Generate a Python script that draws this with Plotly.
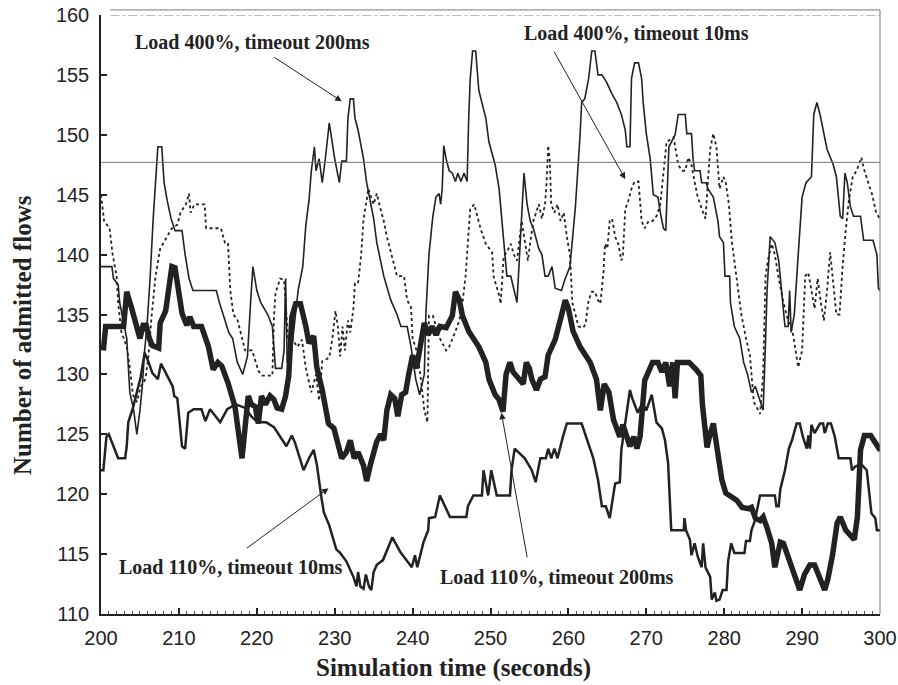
import plotly.graph_objects as go

# Load 400%, timeout 200ms
t_400_200 = [200.0, 201.4, 201.6, 202.2, 202.4, 203.3, 203.7, 204.2, 204.6, 205.0, 205.3, 205.6, 205.9, 206.3,
             206.7, 207.0, 207.3, 207.8, 208.1, 208.5, 209.0, 209.5, 210.4, 210.8, 211.3, 211.8, 212.5, 214.8,
             215.2, 216.4, 216.9, 217.5, 218.2, 218.8, 219.2, 219.5, 220.0, 220.5, 221.4, 222.0, 222.4, 223.2,
             223.5, 223.7, 223.9, 224.3, 224.8, 225.3, 225.9, 226.3, 226.7, 227.0, 227.4, 227.6, 228.0, 228.4,
             228.8, 229.3, 230.0, 230.6, 230.9, 231.5, 231.7, 232.0, 232.4, 232.6, 233.0, 233.7, 234.1, 235.0,
             235.4, 236.3, 237.2, 238.0, 238.5, 239.3, 239.8, 240.4, 240.9, 241.5, 241.7, 242.1, 242.6, 243.0,
             243.4, 243.6, 243.8, 244.0, 244.3, 244.7, 245.1, 245.5, 245.8, 246.2, 246.6, 247.0, 247.2, 247.4,
             247.7, 248.1, 248.5, 248.9, 249.4, 249.8, 250.2, 250.6, 251.1, 251.5, 251.9, 252.1, 252.6, 253.0,
             253.4, 254.3, 254.7, 255.1, 255.5, 256.2, 256.6, 257.0, 257.4, 257.9, 258.3, 259.1, 259.6, 260.2,
             260.9, 261.5, 261.7, 262.1, 262.6, 263.0, 263.4, 263.8, 264.3, 264.9, 265.6, 266.2, 266.8, 267.3,
             267.5, 267.9, 268.1, 268.5, 269.0, 269.4, 269.6, 270.0, 270.5, 270.9, 271.5, 271.8, 272.2, 272.5,
             272.7, 272.9, 273.3, 273.7, 274.1, 275.0, 275.2, 275.8, 276.0, 276.2, 276.9, 277.1, 277.7, 277.9,
             278.6, 279.0, 279.2, 279.4, 279.9, 280.1, 280.7, 280.8, 281.3, 282.0, 282.5, 283.0, 283.5, 284.0,
             284.5, 285.0, 285.3, 285.5, 285.9, 286.5, 287.0, 287.4, 287.8, 288.2, 288.4, 288.6, 289.0, 289.5,
             290.0, 290.5, 291.2, 291.5, 291.9, 292.3, 292.8, 293.2, 294.0, 294.4, 294.9, 295.2, 295.5, 295.8,
             296.2, 296.6, 297.5, 297.9, 299.1, 299.6, 299.8, 300.0]
n_400_200 = [139, 139, 138, 137.5, 136, 133, 128.5, 127, 125, 127, 129, 132, 134, 138,
             143, 146, 149, 149, 146, 144.5, 143, 142, 142, 140, 138, 137, 137, 137,
             136, 133.5, 133, 131, 130, 131.5, 136, 139, 137, 136, 135, 134, 130.5, 130.5,
             132, 138, 131, 131, 134, 137, 139, 142.5, 144.5, 147, 149, 147, 148, 146,
             148, 151, 148, 146, 147.8, 147.8, 151.4, 153, 153, 151.4, 150.4, 148, 146, 143,
             141, 138.2, 136.2, 135, 134, 134, 132.3, 129.6, 128.3, 130, 135, 140, 143.2, 144.8,
             145.1, 144.2, 145.5, 149.1, 148, 147, 146.8, 146.1, 146.8, 146.1, 146.8, 146.1, 151.4, 154.7,
             157, 157, 153.7, 152.7, 151.4, 149.4, 148.4, 147.5, 145.5, 142.8, 140, 138.2, 138.2, 137,
             136, 146.8, 144.2, 142.8, 142.2, 140.5, 140, 138.2, 138.2, 139, 137.2, 137, 138, 139,
             144, 150, 152.7, 153, 154.7, 157, 157, 155, 155, 154.4, 153.4, 152.7, 151.7, 150.4,
             149, 149, 154.7, 156, 156, 154.7, 152.7, 150.1, 148, 145, 144.8, 143.5, 142.2, 142,
             146, 149, 149.5, 150, 151.7, 151.7, 150.1, 150.1, 148, 147, 147, 146, 146, 145.5,
             144.8, 143.5, 142.8, 141.5, 141, 138.2, 138.2, 136, 134, 133, 131, 130, 128.5, 129,
             128, 127, 132.6, 137, 141.5, 141, 139.5, 137, 134, 134, 137, 133.5, 135, 140,
             144.8, 146, 146.5, 151.7, 152.7, 151.7, 150, 148.8, 147.5, 146.5, 143.2, 143, 146.8, 146,
             144, 143.2, 143.2, 141.2, 141.2, 140, 137.2, 137]

# Load 400%, timeout 10ms
t_400_10 = [200.0, 200.4, 201.1, 201.5, 202.0, 202.2, 202.6, 203.3, 203.7, 204.1, 204.6, 205.1, 205.7, 206.1,
            206.5, 207.0, 207.6, 208.5, 209.1, 209.8, 210.2, 210.9, 211.3, 211.5, 212.0, 213.3, 213.5, 215.4,
            215.9, 216.3, 216.6, 217.0, 217.5, 218.5, 219.4, 220.2, 220.7, 222.0, 222.2, 222.4, 223.0, 223.5,
            223.7, 224.0, 224.5, 225.2, 225.8, 226.3, 227.0, 227.6, 228.0, 228.4, 229.3, 229.7, 230.1, 230.4,
            230.7, 231.0, 231.3, 231.7, 232.0, 232.4, 232.6, 233.0, 233.4, 233.7, 234.1, 234.3, 235.0, 235.4,
            235.8, 236.3, 236.7, 237.2, 237.6, 238.0, 238.9, 239.3, 239.8, 240.0, 240.5, 241.0, 241.5, 241.9,
            242.1, 242.6, 243.0, 243.5, 244.3, 244.7, 245.5, 246.0, 246.4, 246.8, 247.2, 247.4, 247.9, 248.3,
            248.8, 249.4, 250.2, 250.4, 251.1, 251.3, 251.7, 252.1, 252.6, 253.0, 253.4, 254.0, 254.4, 254.8,
            255.1, 255.5, 256.2, 256.6, 257.0, 257.2, 257.4, 257.6, 257.8, 258.2, 258.6, 259.0, 259.4, 259.8,
            260.2, 260.5, 260.9, 261.3, 261.9, 262.2, 262.6, 263.0, 263.4, 263.8, 264.1, 264.5, 264.7, 265.0,
            265.3, 265.6, 266.0, 266.4, 266.8, 267.0, 267.3, 267.7, 268.1, 268.5, 269.0, 269.4, 269.8, 270.3,
            270.8, 271.3, 271.8, 272.2, 272.6, 273.5, 274.1, 274.6, 275.0, 275.4, 275.8, 276.2, 276.6, 277.3,
            277.6, 277.9, 278.2, 278.6, 279.0, 279.4, 279.9, 280.2, 280.6, 281.0, 281.6, 282.2, 282.8, 283.3,
            283.8, 284.6, 285.0, 285.3, 285.6, 286.1, 286.5, 287.0, 287.6, 288.2, 288.8, 289.5, 290.0, 290.4,
            290.8, 291.2, 291.6, 292.0, 292.4, 292.8, 293.2, 293.6, 294.0, 294.4, 294.8, 295.2, 295.6, 296.0,
            296.5, 297.0, 297.6, 298.0, 298.5, 299.0, 299.5, 300.0]
n_400_10 = [145, 142.8, 142.2, 140, 138.2, 136, 133.6, 132.3, 130.6, 128.3, 127.7, 129, 129.6, 131.6,
            134.9, 138.2, 140.5, 141.5, 142.2, 142.5, 143.5, 144.2, 145.1, 143.5, 144.2, 144.2, 142.2, 142.2,
            141, 141, 137, 135, 134.6, 132, 132, 130.3, 129.9, 129.9, 134.8, 136.8, 138, 137.9,
            136, 133, 133, 132.3, 132.9, 130.5, 128.5, 130, 127.8, 131.1, 131.4, 133, 135.3, 134,
            131.5, 134, 132, 134.5, 133.5, 135.5, 137.6, 137.6, 140, 143, 144.5, 145.5, 144.2, 145.1,
            144, 142.8, 141.5, 140.2, 139, 138.2, 138.2, 136.2, 135.6, 133, 132, 130, 127, 126,
            134.9, 134.9, 134, 133, 132, 132.3, 133.6, 134.5, 136, 138.2, 142, 143.8, 144.2, 143.2,
            142, 140.9, 140.2, 138.2, 136.6, 135.9, 139.9, 140.2, 140.9, 140, 139.5, 142.8, 141, 139.5,
            141, 142.8, 144.2, 143, 144.2, 146, 149.1, 148, 144.2, 143.5, 144.2, 142.8, 143.5, 141.5,
            140, 136, 135, 134, 133.9, 134.2, 136.2, 136.9, 136.9, 136.2, 135.9, 138.5, 140.9, 140.5,
            142.8, 143, 141.5, 140.9, 139.5, 140, 143.8, 144.5, 145.5, 146.1, 146.1, 142.8, 142.2, 142.8,
            142.8, 143.2, 144.2, 147, 149.4, 149.8, 147.5, 147, 147, 148.1, 147.5, 146.1, 144.8, 143.5,
            143, 146, 148.8, 150.1, 149, 145.5, 146.5, 146, 144.2, 141, 138, 135, 133, 131.6,
            127.7, 126.7, 130, 138.2, 139.5, 140.9, 140, 138, 136, 134.5, 133.5, 130.6, 132, 138.2,
            138.5, 137, 135.5, 138, 136, 134.5, 137, 140.2, 137.5, 135, 135, 139, 142, 144.5,
            146.5, 147, 148.1, 147, 146, 145, 143.5, 143]

# Load 110%, timeout 200ms
t_110_200 = [200.3, 200.6, 202.9, 203.3, 203.9, 204.3, 205.0, 205.4, 205.8, 206.2, 206.6, 207.4, 207.6, 208.3,
             208.7, 209.1, 209.5, 209.9, 210.4, 211.0, 211.4, 211.9, 212.9, 213.8, 214.4, 215.0, 215.5, 216.3,
             217.2, 218.1, 218.5, 218.9, 219.3, 219.8, 220.2, 220.6, 221.1, 221.7, 222.2, 222.6, 223.2, 223.7,
             224.1, 224.5, 225.0, 225.6, 226.3, 226.7, 227.3, 227.7, 228.4, 228.8, 229.2, 229.9, 230.3, 230.9,
             231.5, 232.0, 232.5, 233.0, 233.7, 234.1, 234.6, 235.0, 235.4, 235.9, 236.3, 236.7, 237.2, 237.7,
             238.1, 238.6, 239.1, 239.5, 240.0, 240.5, 240.9, 241.5, 242.0, 242.5, 243.0, 243.5, 244.3, 245.1,
             245.5, 246.0, 246.4, 247.2, 248.5, 249.4, 249.8, 250.6, 251.1, 251.6, 252.0, 252.5, 252.9, 253.6,
             254.2, 254.6, 255.0, 255.3, 255.9, 256.4, 257.0, 257.4, 258.3, 259.1, 259.6, 260.0, 260.6, 261.5,
             262.8, 263.6, 264.1, 264.6, 265.2, 265.8, 266.6, 267.0, 267.9, 268.4, 268.8, 269.2, 269.8, 270.2,
             270.8, 271.5, 272.0, 272.5, 273.0, 273.4, 273.7, 274.0, 275.5, 276.4, 277.0, 277.2, 277.5, 277.8,
             278.1, 278.6, 279.0, 279.7, 280.2, 280.8, 281.6, 282.3, 283.1, 283.5, 284.0, 284.6, 285.0, 285.5,
             286.1, 286.5, 287.2, 287.6, 288.3, 289.1, 289.7, 290.3, 291.0, 291.6, 292.3, 292.9, 293.3, 293.9,
             294.5, 294.9, 295.6, 296.7, 297.1, 297.3, 297.5, 298.0, 298.8, 299.9, 300.0]
n_110_200 = [132, 134, 134, 136.9, 135.6, 134.5, 133, 134.1, 134.1, 133, 132.4, 132.2, 134.3, 135.3,
             137.1, 139, 138.9, 137.1, 135.1, 134.1, 134.8, 134, 134, 132.3, 130.4, 131, 130.7, 129.3,
             127.3, 123, 125.9, 128.2, 127.5, 127.3, 125.9, 128.2, 127.5, 128.2, 127.9, 127.2, 127.1, 128.2,
             129.9, 134.8, 135.9, 135.9, 134, 132.6, 133.2, 130.6, 128.7, 127.3, 125.9, 125.5, 124.4, 123,
             123.5, 124.5, 123, 123.5, 122.4, 121.1, 122.5, 123.5, 124.4, 125, 124.5, 127, 128.3, 128,
             126.5, 128.3, 128.5, 130, 131.6, 130.5, 132.3, 134.3, 133.3, 134, 133.3, 134, 133.9, 134.9,
             136.9, 136.2, 134.9, 133.6, 132.3, 131, 129.6, 128.3, 127.9, 126.9, 130, 131, 130.2, 129.6,
             129.2, 131, 130.5, 129.6, 128.7, 129.6, 129.8, 131.6, 132.9, 134.9, 136.2, 135.5, 133.6, 132.3,
             131, 129.6, 127, 129.2, 128.5, 126.2, 124.8, 125.8, 124, 124.8, 123.8, 124.8, 129.5, 130.1,
             131, 131, 130.2, 131, 129, 131, 128, 131, 131, 130.4, 129.9, 127.5, 125.9, 123.9,
             124.8, 125.9, 124.2, 121.2, 120.1, 119.8, 119.5, 118.9, 118.8, 118.9, 118, 117.8, 118.1, 117.2,
             115.9, 113.9, 116, 115.9, 114.5, 113.1, 112, 113.3, 114.1, 114.1, 113.1, 112, 112.9, 114.9,
             117.6, 118.1, 117, 116.2, 118.1, 120.7, 123.7, 124.9, 124.9, 123.8, 123.8]

# Load 110%, timeout 10ms
t_110_10 = [200.0, 200.3, 200.7, 201.0, 202.2, 203.1, 203.3, 203.5, 204.1, 204.5, 205.1, 205.6, 206.0, 206.6,
            207.3, 207.7, 208.3, 208.8, 209.2, 209.4, 209.8, 210.4, 210.8, 211.2, 211.9, 212.9, 213.4, 214.0,
            215.3, 216.2, 217.3, 218.5, 219.3, 220.1, 221.2, 222.2, 223.0, 223.8, 224.5, 224.9, 226.0, 226.7,
            227.3, 227.7, 228.3, 228.6, 229.3, 230.2, 230.7, 231.5, 232.4, 232.8, 233.0, 233.3, 233.7, 234.0,
            234.4, 234.7, 235.0, 235.4, 236.2, 237.0, 237.4, 238.4, 239.9, 240.3, 240.6, 241.4, 242.0, 242.1,
            242.9, 243.5, 244.8, 246.9, 247.1, 247.8, 248.9, 249.1, 249.4, 249.7, 250.1, 250.8, 252.5, 252.7,
            253.1, 254.4, 255.3, 255.8, 256.4, 257.1, 257.4, 257.8, 258.2, 258.6, 259.3, 259.8, 261.7, 263.2,
            263.8, 264.3, 264.8, 265.3, 266.0, 266.6, 266.8, 267.3, 267.9, 268.2, 268.9, 269.5, 270.0, 270.7,
            271.3, 272.0, 272.4, 272.8, 273.2, 274.8, 274.9, 275.1, 275.6, 275.8, 276.2, 276.6, 277.1, 277.3,
            277.6, 278.2, 278.4, 278.8, 279.0, 279.4, 279.8, 280.3, 280.5, 280.9, 281.3, 282.6, 282.8, 283.3,
            283.5, 283.9, 284.6, 286.5, 286.7, 287.0, 287.2, 287.8, 288.3, 288.7, 289.3, 289.7, 290.1, 290.6,
            290.8, 291.0, 291.2, 291.6, 292.3, 292.7, 292.9, 293.3, 293.7, 294.2, 294.7, 296.2, 296.4, 296.8,
            297.6, 298.3, 298.7, 298.9, 299.4, 299.6, 300.0]
n_110_10 = [122, 122, 124.8, 125, 123, 123, 124, 126, 127.2, 128.2, 129.8, 131.8, 131.2, 130.1,
            129.6, 130.9, 130.1, 129.5, 129, 128.2, 128, 124, 123.8, 126.8, 127.1, 127.1, 126.1, 127.1,
            126, 127.1, 127.5, 127.2, 126.5, 126, 126, 125.6, 124.8, 124, 124.9, 124.3, 122, 123,
            123.7, 122.5, 119.7, 118.5, 117.4, 115.4, 115.1, 114.4, 113.1, 112.3, 113.5, 112.3, 112.1, 113.3,
            112.3, 112, 113.5, 114.1, 114.5, 115.8, 116.4, 115.2, 113.9, 114.9, 113.9, 116, 117, 118,
            118.1, 119.9, 118.1, 118.1, 119, 119.9, 119.9, 122, 121, 119.9, 122, 119.9, 119.9, 122,
            123.8, 123, 122, 121, 123, 123, 123.8, 123, 123.8, 123, 124.8, 125.9, 125.9, 123,
            121.2, 119, 119, 118, 120.9, 121, 123.7, 126, 128.7, 128, 126.8, 127.6, 127, 128.3,
            126, 125.5, 124.5, 122.6, 117, 117, 118, 117, 116.2, 114.9, 115.9, 114.8, 113.9, 115.9,
            113.9, 113.1, 111.2, 111.8, 111.1, 111.2, 112, 112, 114.4, 115.9, 115.1, 115.1, 116.1, 116.1,
            117, 117.7, 119.9, 119.9, 119, 119, 120.4, 122, 123.8, 124.5, 125.9, 125.9, 124.8, 123.8,
            124.9, 123.8, 125.8, 125.1, 125.9, 125.9, 125.1, 125.9, 125.9, 124.8, 123, 123, 122, 122.3,
            122.5, 122, 119.5, 118.4, 118, 117, 117]

# Capacity reference level
capacity_level = 147.7

x_ticks = list(range(200, 301, 10))
y_ticks = list(range(110, 161, 5))

INK = "#222222"
GREY = "#777777"
SERIF = "Liberation Serif"
SANS = "Liberation Sans"

fig = go.Figure()

fig.add_trace(go.Scatter(x=t_110_10, y=n_110_10, mode="lines", name="Load 110%, timeout 10ms",
                         line=dict(color=INK, width=2.5)))
fig.add_trace(go.Scatter(x=t_400_200, y=n_400_200, mode="lines", name="Load 400%, timeout 200ms",
                         line=dict(color=INK, width=1.6)))
fig.add_trace(go.Scatter(x=t_400_10, y=n_400_10, mode="lines", name="Load 400%, timeout 10ms",
                         line=dict(color=INK, width=1.8, dash="dot")))
fig.add_trace(go.Scatter(x=t_110_200, y=n_110_200, mode="lines", name="Load 110%, timeout 200ms",
                         line=dict(color=INK, width=5.5)))

# horizontal capacity line
fig.add_shape(type="line", xref="x", yref="y", x0=200, x1=300, y0=capacity_level, y1=capacity_level,
              line=dict(color=GREY, width=1))
# top frame: dash-dot at the axis top and a thin solid rule just above it
fig.add_shape(type="line", xref="paper", yref="y", x0=0.012, x1=1, y0=160, y1=160,
              line=dict(color=GREY, width=1, dash="dashdot"))
fig.add_shape(type="line", xref="paper", yref="paper", x0=0.012, x1=1, y0=1.0085, y1=1.0085,
              line=dict(color=GREY, width=1))
# right frame
fig.add_shape(type="line", xref="paper", yref="paper", x0=1, x1=1, y0=0, y1=1.0085,
              line=dict(color=GREY, width=1))

# series labels with arrows
labels = [
    ("Load 400%, timeout 200ms", 0.194, 0.955),
    ("Load 400%, timeout 10ms", 0.687, 0.970),
    ("Load 110%, timeout 10ms", 0.167, 0.079),
    ("Load 110%, timeout 200ms", 0.585, 0.062),
]
for text, lx, ly in labels:
    fig.add_annotation(text="<b>" + text + "</b>", xref="paper", yref="paper", x=lx, y=ly,
                       xanchor="center", yanchor="middle", showarrow=False,
                       font=dict(family=SERIF, size=20, color=INK))

arrows = [
    (230.9, 152.8, -69, -45),
    (267.3, 146.3, -72, -129),
    (229.2, 120.5, -83, 61),
    (251.4, 126.8, 26, 146),
]
for ax_t, ax_v, dx, dy in arrows:
    fig.add_annotation(text="", x=ax_t, y=ax_v, xref="x", yref="y", ax=dx, ay=dy,
                       showarrow=True, arrowhead=2, arrowsize=1.3, arrowwidth=1, arrowcolor=INK)

# axis titles
fig.add_annotation(text="<b>Simulation time (seconds)</b>", xref="paper", yref="paper",
                   x=0.4525, y=-0.090, xanchor="center", yanchor="middle", showarrow=False,
                   font=dict(family=SERIF, size=25, color=INK))
fig.add_annotation(text="<b>Number of admitted flows</b>", xref="paper", yref="paper",
                   x=-0.100, y=0.466, xanchor="center", yanchor="middle", textangle=-90,
                   showarrow=False, font=dict(family=SERIF, size=25, color=INK))

fig.update_layout(
    width=898, height=685,
    margin=dict(l=101, r=18, t=15, b=71),
    paper_bgcolor="white", plot_bgcolor="white",
    showlegend=False,
    xaxis=dict(range=[200, 300], tickvals=x_ticks, ticks="inside", ticklen=6, tickwidth=1.5,
               tickcolor=INK, showline=True, linecolor=INK, linewidth=1.5, showgrid=False,
               zeroline=False, automargin=False,
               tickfont=dict(family=SANS, size=20, color=INK), ticklabelstandoff=5,
               minor=dict(dtick=1, ticks="inside", ticklen=3, tickcolor="#555555", tickwidth=1)),
    yaxis=dict(range=[110, 160], tickvals=y_ticks, ticks="inside", ticklen=6, tickwidth=1.5,
               tickcolor=INK, showline=True, linecolor=INK, linewidth=1.5, showgrid=False,
               zeroline=False, automargin=False,
               tickfont=dict(family=SANS, size=20, color=INK), ticklabelstandoff=6),
)

fig.write_html("out.html")
